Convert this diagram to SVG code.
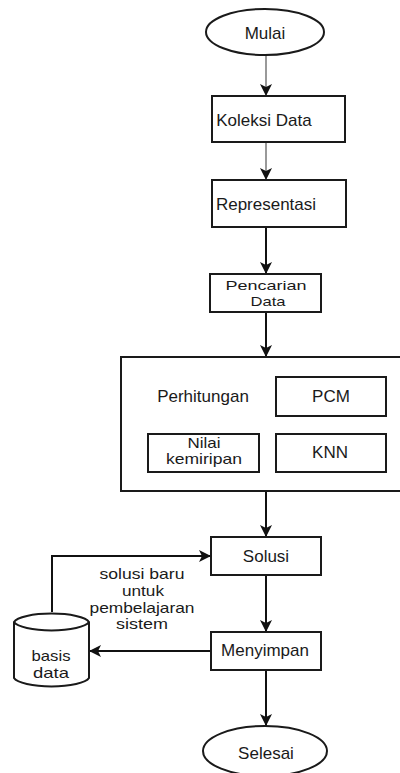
<svg xmlns="http://www.w3.org/2000/svg" width="400" height="773" viewBox="0 0 400 773">
<style>
.box{fill:#fff;stroke:#1a1a1a;stroke-width:2}
.t{font-family:"Liberation Sans",Arial,sans-serif;font-size:17px;fill:#1a1a1a;text-anchor:middle}
.m{font-size:15px}
.s{font-size:13.5px}
.thin{fill:none;stroke:#555;stroke-width:1.2}
.thick{fill:none;stroke:#111;stroke-width:2}
</style>
<defs>
<marker id="ah" markerUnits="userSpaceOnUse" markerWidth="12" markerHeight="12" refX="12" refY="6" orient="auto" viewBox="0 0 12 12">
<path d="M0,0 L12,6 L0,12 L3,6 z" fill="#111"/>
</marker>
</defs>
<rect width="400" height="773" fill="#fff"/>
<g id="connectors">
<line class="thin" x1="266" y1="55" x2="266" y2="96" marker-end="url(#ah)"/>
<line class="thin" x1="266" y1="142" x2="266" y2="180" marker-end="url(#ah)"/>
<line class="thick" x1="266" y1="227" x2="266" y2="274" marker-end="url(#ah)"/>
<line class="thick" x1="266" y1="312" x2="266" y2="357" marker-end="url(#ah)"/>
<line class="thick" x1="266" y1="491" x2="266" y2="537" marker-end="url(#ah)"/>
<line class="thick" x1="266" y1="575" x2="266" y2="632" marker-end="url(#ah)"/>
<line class="thick" x1="266" y1="670" x2="266" y2="726" marker-end="url(#ah)"/>
<line class="thick" x1="211" y1="651" x2="89" y2="651" marker-end="url(#ah)"/>
<path class="thick" d="M52,612 L52,556 L211,556" marker-end="url(#ah)"/>
<g id="label-learning">
<text class="t m" x="142" y="579" textLength="85" lengthAdjust="spacingAndGlyphs">solusi baru</text>
<text class="t m" x="143" y="596" textLength="42" lengthAdjust="spacingAndGlyphs">untuk</text>
<text class="t m" x="142" y="613" textLength="105" lengthAdjust="spacingAndGlyphs">pembelajaran</text>
<text class="t m" x="142" y="629" textLength="52" lengthAdjust="spacingAndGlyphs">sistem</text>
</g>
</g>
<g id="mulai">
<ellipse class="box" cx="265" cy="32" rx="59" ry="23"/>
<text class="t" x="265" y="39">Mulai</text>
</g>
<g id="koleksi">
<rect class="box" x="212" y="96" width="133" height="46"/>
<text class="t" x="264" y="126">Koleksi Data</text>
</g>
<g id="representasi">
<rect class="box" x="212" y="180" width="134" height="47"/>
<text class="t" x="266" y="210">Representasi</text>
</g>
<g id="pencarian">
<rect class="box" x="210" y="274" width="111" height="38"/>
<text class="t s" x="266" y="290" textLength="81" lengthAdjust="spacingAndGlyphs">Pencarian</text>
<text class="t s" x="268" y="306" textLength="35" lengthAdjust="spacingAndGlyphs">Data</text>
</g>
<g id="perhitungan">
<rect class="box" x="121" y="357" width="282" height="134"/>
<text class="t" x="203" y="402">Perhitungan</text>
</g>
<g id="pcm">
<rect class="box" x="276" y="377" width="110" height="39"/>
<text class="t" x="331" y="402">PCM</text>
</g>
<g id="nilai">
<rect class="box" x="148" y="434" width="111" height="38"/>
<text class="t m" x="204" y="448" textLength="33" lengthAdjust="spacingAndGlyphs">Nilai</text>
<text class="t m" x="204" y="464" textLength="76" lengthAdjust="spacingAndGlyphs">kemiripan</text>
</g>
<g id="knn">
<rect class="box" x="276" y="434" width="110" height="38"/>
<text class="t" x="330" y="458">KNN</text>
</g>
<g id="solusi">
<rect class="box" x="211" y="537" width="110" height="38"/>
<text class="t" x="266" y="562">Solusi</text>
</g>
<g id="menyimpan">
<rect class="box" x="211" y="632" width="110" height="38"/>
<text class="t" x="265" y="656">Menyimpan</text>
</g>
<g id="selesai">
<ellipse class="box" cx="265" cy="751" rx="62" ry="25"/>
<text class="t" x="266" y="759">Selesai</text>
</g>
<g id="basis-data">
<path class="box" d="M14,622 A38,10 0 0 1 89,622 L89,678 A38,10 0 0 1 14,678 Z"/>
<path class="box" style="fill:none" d="M14,622 A38,10 0 0 0 89,622"/>
<text class="t m" x="51" y="661" textLength="39" lengthAdjust="spacingAndGlyphs">basis</text>
<text class="t m" x="51" y="678" textLength="36" lengthAdjust="spacingAndGlyphs">data</text>
</g>
</svg>
